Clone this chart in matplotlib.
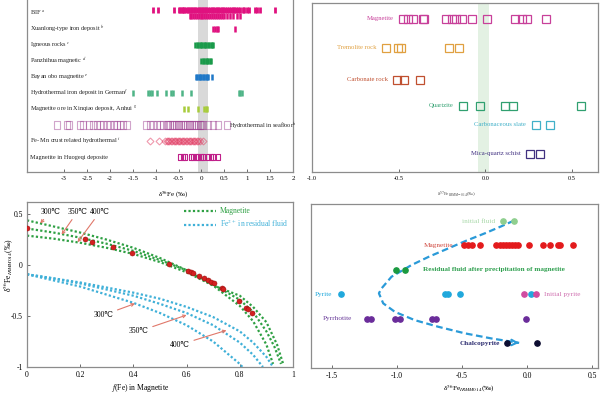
import matplotlib
matplotlib.use('Agg')
import matplotlib.pyplot as plt

plt.rcParams['font.family'] = ['Liberation Serif', 'DejaVu Serif']
plt.rcParams['mathtext.fontset'] = 'stix'

# ---------------- Panel A data (delta56Fe, per mil) ----------------
bif_upper = [-1.05, -0.95, -0.60, -0.50, -0.46, -0.43, -0.40, -0.37, -0.33, -0.30, -0.27, -0.23,
             -0.20, -0.17, -0.13, -0.10, -0.06, -0.03, 0.01, 0.04, 0.08, 0.11, 0.15, 0.18, 0.22,
             0.25, 0.29, 0.33, 0.36, 0.40, 0.44, 0.48, 0.52, 0.56, 0.60, 0.64, 0.68, 0.72, 0.76,
             0.80, 0.85, 0.90, 0.94, 0.99, 1.04, 1.17, 1.22, 1.28, 1.60]
bif_lower = [-0.26, -0.22, -0.18, -0.14, -0.10, -0.06, -0.02, 0.02, 0.06, 0.10, 0.14, 0.18,
             0.23, 0.27, 0.31, 0.36, 0.40, 0.45, 0.50, 0.56, 0.62, 0.70, 0.78, 0.84]
xuanlong = [0.25, 0.29, 0.33, 0.36, 0.74]
igneous = [-0.13, -0.10, -0.07, -0.04, -0.01, 0.02, 0.05, 0.08, 0.11, 0.14, 0.17, 0.20, 0.23, 0.25]
panzhihua = [0.00, 0.03, 0.06, 0.09, 0.12, 0.15, 0.18, 0.20]
bayan_obo = [-0.12, -0.09, -0.06, -0.03, 0.00, 0.03, 0.06, 0.09, 0.12, 0.15, 0.22]
germany = [-1.49, -1.16, -1.12, -1.09, -0.98, -0.77, -0.66, -0.62, -0.43, -0.23, 0.81, 0.85, 0.89]
xinqiao = [-0.37, -0.29, -0.07, 0.06, 0.10, 0.12]
seafloor = [-3.16, -2.94, -2.89, -2.65, -2.58, -2.45, -2.36, -2.29, -2.21, -2.14, -2.07, -1.99,
            -1.92, -1.85, -1.78, -1.71, -1.62, -1.20, -1.12, -1.05, -0.98, -0.91, -0.83, -0.76,
            -0.72, -0.68, -0.64, -0.60, -0.56, -0.52, -0.48, -0.44, -0.40, -0.36, -0.32, -0.28,
            -0.24, -0.20, -0.16, -0.12, -0.08, -0.04, 0.00, 0.04, 0.15, 0.26, 0.37, 0.55]
femn_crust = [-1.13, -0.93, -0.79, -0.76, -0.73, -0.70, -0.67, -0.64, -0.61, -0.58, -0.55, -0.52,
              -0.49, -0.46, -0.43, -0.40, -0.37, -0.34, -0.31, -0.28, -0.25, -0.22, -0.19, -0.16,
              -0.13, -0.10, -0.07, -0.03, 0.03]
huogeqi = [-0.47, -0.41, -0.36, -0.23, -0.18, -0.12, -0.07, -0.02, 0.04, 0.15, 0.20, 0.26, 0.37]
labels_A = ["BIF $^{a}$", "Xuanlong-type iron deposit $^{b}$", "Igneous rocks $^{c}$",
            "Panzhihua magnetic $^{d}$", "Bayan obo magnetite $^{e}$",
            "Hydrothermal iron deposit in German$^{f}$",
            "Magnetite ore in Xinqiao deposit, Anhui $^{g}$",
            "Hydrothermal in seafloor$^{h}$", "Fe- Mn crust related hydrothermal $^{i}$",
            "Magnetite in Huogeqi deposite"]
ticks_A = [-3, -2.5, -2, -1.5, -1, -0.5, 0, 0.5, 1, 1.5, 2]

# ---------------- Panel B data ----------------
b_magnetite = [-0.476, -0.447, -0.419, -0.362, -0.352, -0.229, -0.19, -0.171, -0.133, -0.076,
               0.01, 0.171, 0.21, 0.238, 0.352]
b_tremolite = [-0.571, -0.505, -0.486, -0.21, -0.152]
b_carbonate = [-0.509, -0.467, -0.375]
b_quartzite = [-0.13, -0.032, 0.114, 0.162, 0.552]
b_slate = [0.291, 0.371]
b_schist = [0.257, 0.314]
labels_B = ["Magnetite", "Tremolite rock", "Carbonate rock", "Quartzite",
            "Carbonaceous slate", "Mica-quartz schist"]
ticks_B = [-1.0, -0.5, 0.0, 0.5]

# ---------------- Panel C data ----------------
mag_f = [0.0, 0.218, 0.243, 0.325, 0.396, 0.534, 0.607, 0.617, 0.625, 0.647, 0.665, 0.679,
         0.692, 0.704, 0.732, 0.738, 0.797, 0.823, 0.830, 0.845]
mag_d = [0.36, 0.252, 0.229, 0.18, 0.124, 0.016, -0.059, -0.065, -0.075, -0.108, -0.131, -0.147,
         -0.163, -0.18, -0.229, -0.238, -0.35, -0.425, -0.434, -0.474]
curve_f = [0.0, 0.1, 0.2, 0.3, 0.4, 0.5, 0.6, 0.7, 0.8, 0.85, 0.9]
mag300 = [0.44, 0.38, 0.32, 0.25, 0.17, 0.07, -0.05, -0.20, -0.40, -0.55, -0.78]
mag350 = [0.36, 0.32, 0.27, 0.21, 0.14, 0.05, -0.05, -0.19, -0.34, -0.46, -0.65]
mag400 = [0.29, 0.26, 0.22, 0.17, 0.11, 0.03, -0.07, -0.20, -0.30, -0.41, -0.56]
mag_end_f = [[0.925], [0.93, 0.955], [0.94, 0.963]]
mag_end_d = [[-0.97], [-0.80, -0.97], [-0.78, -0.97]]
fl300 = [-0.09, -0.15, -0.21, -0.29, -0.37, -0.47, -0.59, -0.75, -0.97]
fl350 = [-0.09, -0.13, -0.18, -0.24, -0.30, -0.38, -0.47, -0.59, -0.76, -0.88]
fl400 = [-0.09, -0.13, -0.17, -0.22, -0.27, -0.33, -0.41, -0.51, -0.65, -0.76, -0.90]
fl_end_f = [[0.81], [0.887], [0.925]]
fl_end_d = [[-1.0], [-1.0], [-1.0]]
temps = ["300℃", "350℃", "400℃"]

# ---------------- Panel D data ----------------
d_initial_fluid = [-0.182, -0.097]
d_magnetite = [-0.482, -0.451, -0.426, -0.362, -0.241, -0.208, -0.182, -0.162, -0.138, -0.113,
               -0.092, -0.067, 0.015, 0.126, 0.177, 0.236, 0.254, 0.356]
d_residual = [-1.01, -0.938]
d_pyrite = [-1.426, -0.631, -0.605, -0.513, 0.028]
d_initial_pyrite = [-0.023, 0.067]
d_pyrrhotite = [-1.233, -1.20, -1.015, -0.977, -0.733, -0.70, -0.008]
d_chalcopyrite = [-0.151, 0.079]
path_x = [-0.10, -0.20, -0.323, -0.465, -0.605, -0.75, -0.887, -1.041, -1.118, -1.138, -1.105,
          -1.015, -0.862, -0.682, -0.477, -0.272, -0.06]
path_row = [-0.02, 0.22, 0.50, 0.80, 1.12, 1.45, 1.80, 2.28, 2.76, 2.96, 3.37, 3.72, 4.06,
            4.33, 4.60, 4.81, 4.99]
ticks_D = [-1.5, -1.0, -0.5, 0.0, 0.5]

# ---------------- figure ----------------
W, H = 600, 396
fig = plt.figure(figsize=(6, 3.96), dpi=100)


def add_axes(x0, y0, x1, y1):
    return fig.add_axes([x0 / W, 1 - y1 / H, (x1 - x0) / W, (y1 - y0) / H])


axA = add_axes(27, -3, 293, 172)
axB = add_axes(312, 3, 598, 172)
axC = add_axes(27, 202, 293, 367)
axD = add_axes(311, 204, 598, 368)

for ax in (axA, axB, axC, axD):
    for s in ax.spines.values():
        s.set_color('#8c8c8c')
        s.set_linewidth(0.9)
    ax.tick_params(direction='in', length=2.5, width=0.6, color='#555555',
                   labelsize=5.5, pad=3)

# ---------------- Panel A ----------------
axA.axvspan(-0.08, 0.14, color='#d9d9d9', lw=0, zorder=0)
bar = dict(marker='|', linestyle='none', markersize=4.3, markeredgewidth=1.8)
axA.plot(bif_upper, [-0.16] * len(bif_upper), color='#e0117f',
         **{**bar, 'markersize': 4.0, 'markeredgewidth': 2.0})
axA.plot(bif_lower, [0.2] * len(bif_lower), color='#e0117f', **{**bar, 'markersize': 4.3})
axA.plot(xuanlong, [1] * len(xuanlong), color='#e0117f', **bar)
axA.plot(igneous, [2] * len(igneous), color='#1a9a4a', **bar)
axA.plot(panzhihua, [3] * len(panzhihua), color='#1a9a4a', **bar)
axA.plot(bayan_obo, [4] * len(bayan_obo), color='#1f78c8', **bar)
axA.plot(germany, [5] * len(germany), color='#4fb487', **bar)
axA.plot(xinqiao, [6] * len(xinqiao), color='#a8cc3c', **bar)
rect = [(-0.35, -0.5), (0.35, -0.5), (0.35, 0.5), (-0.35, 0.5), (-0.35, -0.5)]
axA.plot(seafloor, [7] * len(seafloor), marker=rect, linestyle='none', markersize=5.4,
         markerfacecolor='none', markeredgecolor=(0.6, 0.22, 0.55, 0.45), markeredgewidth=0.8)
axA.plot(femn_crust, [8] * len(femn_crust), marker='D', linestyle='none', markersize=3.5,
         markerfacecolor='none', markeredgecolor=(0.88, 0.2, 0.36, 0.5), markeredgewidth=0.8)
axA.plot(huogeqi, [9] * len(huogeqi), marker=rect, linestyle='none', markersize=4.4,
         markerfacecolor='none', markeredgecolor='#c0208a', markeredgewidth=0.8)
for i, lab in enumerate(labels_A):
    if i == 7:
        axA.text(0.60, i, lab, fontsize=4.5, va='center', ha='left', color='#222222')
    else:
        axA.text(0.012, i, lab, fontsize=4.5, va='center', ha='left', color='#222222',
                 transform=axA.get_yaxis_transform())
axA.set_xlim(-3.81, 2.0)
axA.set_ylim(9.92, -0.98)
axA.set_yticks([])
axA.set_xticks(ticks_A)
axA.set_xticklabels([f"{t:g}" for t in ticks_A], fontsize=5)
axA.text(0.549, -0.13, r"δ$^{56}$Fe (‰)", transform=axA.transAxes, fontsize=5,
         ha='center', va='center')

# ---------------- Panel B ----------------
rowsB = [0, 1, 2.1, 3.0, 3.65, 4.65]
colorsB = ['#c8409a', '#e0a040', '#c05030', '#30a070', '#40b0c8', '#403080']
seriesB = [b_magnetite, b_tremolite, b_carbonate, b_quartzite, b_slate, b_schist]
axB.axvspan(-0.04, 0.02, color='#e3f1e3', lw=0, zorder=0)
for r, c, vals, lab in zip(rowsB, colorsB, seriesB, labels_B):
    axB.plot(vals, [r] * len(vals), marker='s', linestyle='none', markersize=5.6,
             markerfacecolor='none', markeredgecolor=c, markeredgewidth=0.9)
    axB.text(min(vals) - 0.055, r, lab, color=c, fontsize=4.8, ha='right', va='center')
axB.set_xlim(-1.0, 0.65)
axB.set_ylim(5.28, -0.55)
axB.set_yticks([])
axB.set_xticks(ticks_B)
axB.set_xticklabels([f"{t:.1f}" for t in ticks_B], fontsize=4.5)
axB.text(0.507, -0.13, r"δ$^{57}$Fe$_{IRMM-014}$(‰)", transform=axB.transAxes, fontsize=3.6,
         ha='center', va='center', color='#444444')

# ---------------- Panel C ----------------
green = '#2ea043'
blue = '#3fb0d8'
dot = dict(linestyle=(0, (1, 1)), linewidth=1.6)
for vals, ef, ed in zip([mag300, mag350, mag400], mag_end_f, mag_end_d):
    axC.plot(curve_f[:len(vals)] + ef, vals + ed, color=green, **dot)
for vals, ef, ed in zip([fl300, fl350, fl400], fl_end_f, fl_end_d):
    axC.plot(curve_f[:len(vals)] + ef, vals + ed, color=blue, **dot)
axC.plot(mag_f, mag_d, marker='o', linestyle='none', markersize=3.6, color='#d42020',
         markeredgecolor='#a01010', markeredgewidth=0.4, zorder=5)
axC.plot([], [], color=green, label='Magnetite', **dot)
axC.plot([], [], color=blue, label='Fe$^{2+}$ in residual fluid', **dot)
leg = axC.legend(loc='upper right', frameon=False, fontsize=5.5, labelcolor='linecolor',
                 handlelength=4.2, borderaxespad=0.3, labelspacing=0.35, handletextpad=0.5)
arrow = dict(arrowstyle='->', color='#e0786a', lw=0.8, shrinkA=1, shrinkB=0, mutation_scale=5)
upper_text = [(0.0875, 0.525), (0.19, 0.525), (0.275, 0.525)]
upper_tip = [(0.05, 0.41), (0.13, 0.30), (0.19, 0.225)]
lower_text = [(0.2875, -0.49), (0.42, -0.65), (0.575, -0.78)]
lower_tip = [(0.406, -0.377), (0.60, -0.49), (0.75, -0.64)]
for t, xt, tip in zip(temps, upper_text, upper_tip):
    axC.annotate(t, xy=tip, xytext=xt, fontsize=5.5, ha='center', va='center',
                 arrowprops=arrow)
for t, xt, tip in zip(temps, lower_text, lower_tip):
    axC.annotate(t, xy=tip, xytext=xt, fontsize=5.5, ha='center', va='center',
                 arrowprops=arrow)
axC.set_xlim(0, 1)
axC.set_ylim(-1, 0.62)
axC.set_xticks([0, 0.2, 0.4, 0.6, 0.8, 1])
axC.set_xticklabels(["0", "0.2", "0.4", "0.6", "0.8", "1"])
axC.set_yticks([-1, -0.5, 0, 0.5])
axC.set_yticklabels(["-1", "-0.5", "0", "0.5"])
axC.text(0.425, -0.13, "$f$(Fe) in Magnetite", transform=axC.transAxes, fontsize=5.5,
         ha='center', va='center')
axC.text(-0.07, 0.62, r"δ$^{56}$Fe$_{IRMM014}$(‰)", transform=axC.transAxes, fontsize=5.5,
         ha='center', va='center', rotation=90)

# ---------------- Panel D ----------------
path_color = '#2a9ad8'
axD.plot(path_x, path_row, color=path_color, linestyle=(0, (3, 1.6)), linewidth=1.6, zorder=2)
axD.annotate('', xy=(path_x[-1], path_row[-1]), xytext=(path_x[-1] - 0.02, path_row[-1] - 0.005),
             arrowprops=dict(arrowstyle='->', color=path_color, lw=1.5, mutation_scale=10,
                             shrinkA=0, shrinkB=0))
pt = dict(marker='o', linestyle='none', markersize=3.8, zorder=4)
axD.plot(d_initial_fluid, [0] * 2, color='#8fcf8f', **pt)
axD.plot(d_magnetite, [1] * len(d_magnetite), color='#e31a1c', **pt)
axD.plot(d_residual, [2] * 2, color='#1a9a40', **pt)
axD.plot(d_pyrite, [3] * len(d_pyrite), color='#20a8dc', **pt)
axD.plot(d_initial_pyrite, [3] * 2, color='#d04ca0', **pt)
axD.plot(d_pyrrhotite, [4] * len(d_pyrrhotite), color='#6a2c9a', **pt)
axD.plot(d_chalcopyrite, [5] * 2, color='#0c0c30', **pt)
lab = dict(fontsize=5.2, va='center')
axD.text(-0.246, 0, "initial fluid", color='#a8d8a8', ha='right', **lab)
axD.text(-0.567, 1, "Magnetite", color='#d04a40', ha='right', **lab)
axD.text(-0.797, 2, "Residual fluid after precipitation of magnetite", color='#30a050',
         ha='left', fontweight='bold', **lab)
axD.text(-1.495, 3, "Pyrite", color='#20a8dc', ha='right', **lab)
axD.text(0.133, 3, "Initial pyrite", color='#d070b0', ha='left', **lab)
axD.text(-1.344, 4, "Pyrrhotite", color='#6a3c9a', ha='right', **lab)
axD.text(-0.208, 5, "Chalcopyrite", color='#2c2c70', ha='right', fontweight='bold', **lab)
axD.set_xlim(-1.66, 0.546)
axD.set_ylim(6.02, -0.70)
axD.set_yticks([])
axD.set_xticks(ticks_D)
axD.set_xticklabels([f"{t:.1f}" for t in ticks_D])
axD.text(0.55, -0.128, r"δ$^{56}$Fe$_{IRMM014}$(‰)", transform=axD.transAxes, fontsize=5.3,
         ha='center', va='center')

fig.savefig('out.png', dpi=100)
